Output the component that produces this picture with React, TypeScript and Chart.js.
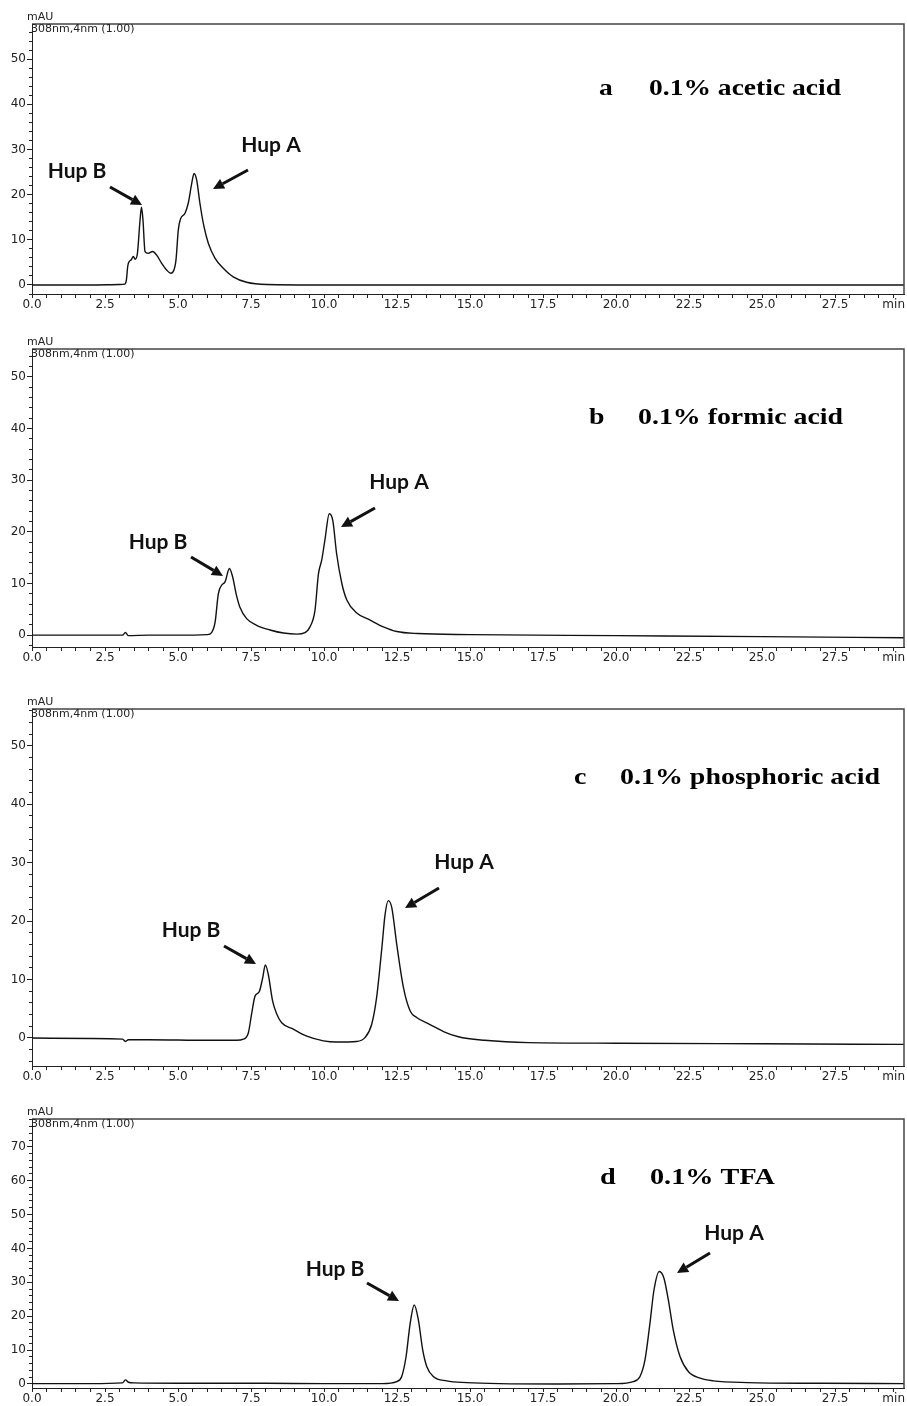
import React, { useEffect, useRef } from 'react';
import { Chart, registerables } from 'chart.js';

Chart.register(...registerables);

// ---------- data (retention time in min, signal in mAU) ----------
const timesA = [0, 1.0, 2.0, 3.0, 3.18, 3.23, 3.28, 3.33, 3.40, 3.47, 3.53, 3.61, 3.70, 3.75, 3.80, 3.87, 3.98, 4.13, 4.27, 4.44, 4.61, 4.75, 4.84, 4.93, 5.01, 5.09, 5.24, 5.35, 5.47, 5.55, 5.64, 5.75, 5.89, 6.04, 6.27, 6.55, 6.89, 7.35, 8.04, 10, 15, 20, 25, 29.86];
const signalA = [0, 0, 0, 0.1, 0.2, 1.0, 4.2, 5.2, 5.6, 6.3, 5.7, 7.0, 14.4, 17.2, 14.4, 7.4, 7.0, 7.4, 6.6, 4.8, 3.3, 2.6, 3.0, 5.5, 12.2, 14.7, 15.9, 18.1, 22.5, 24.7, 23.2, 18.1, 12.9, 9.2, 5.9, 3.7, 1.8, 0.6, 0.1, 0, 0, 0, 0, 0];

const timesB = [0, 3.1, 3.2, 3.3, 4.0, 5.0, 6.0, 6.15, 6.27, 6.38, 6.50, 6.61, 6.76, 6.87, 6.99, 7.12, 7.35, 7.69, 8.15, 8.61, 9.07, 9.35, 9.52, 9.69, 9.81, 9.92, 10.03, 10.18, 10.30, 10.43, 10.61, 10.78, 11.12, 11.58, 12.03, 12.49, 13.2, 15, 20, 25, 29.86];
const signalB = [0, 0, 0.5, -0.1, 0, 0, 0.1, 0.5, 2.5, 8.0, 9.7, 10.3, 12.9, 11.3, 8.0, 5.4, 3.2, 1.9, 1.0, 0.4, 0.2, 0.5, 1.6, 4.8, 11.9, 14.5, 18.4, 23.5, 22.2, 15.8, 10.0, 6.8, 4.3, 2.9, 1.6, 0.7, 0.3, 0.1, -0.1, -0.3, -0.5];

const timesC = [0, 2.0, 3.1, 3.2, 3.3, 4.0, 6.0, 7.0, 7.24, 7.41, 7.52, 7.64, 7.78, 7.90, 7.99, 8.09, 8.24, 8.38, 8.55, 8.95, 9.41, 9.98, 10.43, 11.12, 11.40, 11.63, 11.80, 11.98, 12.09, 12.20, 12.32, 12.49, 12.72, 12.95, 13.17, 13.63, 14.09, 14.6, 15.5, 17, 20, 25, 29.86];
const signalC = [0, -0.1, -0.2, -0.6, -0.3, -0.3, -0.4, -0.4, -0.2, 0.9, 4.1, 7.2, 7.9, 10.3, 12.5, 10.9, 6.3, 4.1, 2.6, 1.5, 0.3, -0.5, -0.7, -0.6, 0.05, 2.3, 6.9, 15.4, 21.1, 23.5, 22.3, 16.0, 8.6, 4.6, 3.5, 2.3, 1.1, 0.2, -0.4, -0.8, -0.9, -1.0, -1.1];

const timesD = [0, 2.0, 3.1, 3.2, 3.3, 3.5, 5, 8, 10, 12.0, 12.49, 12.66, 12.81, 12.95, 13.09, 13.23, 13.38, 13.52, 13.74, 14.20, 14.89, 16, 18, 20.0, 20.59, 20.82, 20.99, 21.16, 21.30, 21.48, 21.64, 21.79, 21.96, 22.19, 22.48, 22.88, 23.33, 24.5, 27, 29.86];
const signalD = [0.1, 0.1, 0.3, 1.2, 0.5, 0.3, 0.2, 0.2, 0.1, 0.1, 0.7, 2.2, 8.1, 17.9, 23.3, 18.9, 10.0, 5.1, 2.2, 0.9, 0.4, 0.1, 0.0, 0.1, 0.7, 2.2, 7.1, 17.9, 27.8, 33.2, 31.2, 24.8, 15.9, 8.1, 3.6, 1.7, 0.9, 0.4, 0.2, 0.1];

const panelTimes = [timesA, timesB, timesC, timesD];
const panelSignals = [signalA, signalB, signalC, signalD];
const panelLetters = ['a', 'b', 'c', 'd'];
const panelTitles = ['0.1% acetic acid', '0.1% formic acid', '0.1% phosphoric acid', '0.1% TFA'];
const peakNames = ['Hup B', 'Hup A'];
const yMins = [-2.0, -2.3, -4.8, -1.2];
const yMaxs = [57.8, 55.4, 56.3, 78.2];
const xMin = 0;
const xMax = 29.86;
const xTickStep = 0.5;
const xLabelStep = 2.5;
const yTickStep = 2;
const yLabelStep = 10;
const yUnit = 'mAU';
const detectorText = '308nm,4nm (1.00)';
const xUnit = 'min';

// ---------- layout (pixels) ----------
type Layout = {
  top: number; plotH: number; bottomH: number;
  letterX: number; titleL: number; titleR: number; titleY: number;
  labels: { x: number; y: number }[];
  arrows: number[][];
};
const LAYOUTS: Layout[] = [
  { top: 0, plotH: 270, bottomH: 20, letterX: 599, titleL: 649, titleR: 841, titleY: 95,
    labels: [{ x: 77, y: 171 }, { x: 271, y: 145 }], arrows: [[110, 187, 142, 205], [248, 170, 213, 189]] },
  { top: 325, plotH: 298, bottomH: 20, letterX: 589, titleL: 638, titleR: 843, titleY: 99,
    labels: [{ x: 158, y: 217 }, { x: 399, y: 157 }], arrows: [[191, 232, 223, 251], [375, 183, 341, 202]] },
  { top: 685, plotH: 357, bottomH: 20, letterX: 574, titleL: 620, titleR: 880, titleY: 99,
    labels: [{ x: 191, y: 245 }, { x: 464, y: 177 }], arrows: [[224, 261, 256, 279], [439, 203, 405, 223]] },
  { top: 1095, plotH: 269, bottomH: 18, letterX: 600, titleL: 650, titleR: 775, titleY: 89,
    labels: [{ x: 335, y: 174 }, { x: 734, y: 138 }], arrows: [[367, 188, 399, 206], [710, 158, 677, 178]] },
];
const PAD_TOP = 24;
const W = 907;
const TICK_FONT = { family: '"DejaVu Sans", sans-serif', size: 12 };
const INK = '#222';

const isMultiple = (v: number, step: number) => Math.abs(v / step - Math.round(v / step)) < 1e-6;

function drawArrow(ctx: CanvasRenderingContext2D, x1: number, y1: number, x2: number, y2: number) {
  const ang = Math.atan2(y2 - y1, x2 - x1);
  const headLen = 11;
  const headW = 5.5;
  const bx = x2 - headLen * Math.cos(ang);
  const by = y2 - headLen * Math.sin(ang);
  ctx.beginPath();
  ctx.lineWidth = 3;
  ctx.lineCap = 'butt';
  ctx.moveTo(x1, y1);
  ctx.lineTo(bx, by);
  ctx.stroke();
  ctx.beginPath();
  ctx.moveTo(x2, y2);
  ctx.lineTo(bx + headW * Math.sin(ang), by - headW * Math.cos(ang));
  ctx.lineTo(bx - headW * Math.sin(ang), by + headW * Math.cos(ang));
  ctx.closePath();
  ctx.fill();
}

function makeOverlay(idx: number) {
  const L = LAYOUTS[idx];
  return {
    id: 'overlay' + idx,
    afterDraw(chart: any) {
      const { ctx, chartArea } = chart;
      const { left, right, top, bottom } = chartArea;
      ctx.save();
      // frame (top + right)
      ctx.strokeStyle = '#444';
      ctx.lineWidth = 1.5;
      ctx.beginPath();
      ctx.moveTo(left, top);
      ctx.lineTo(right, top);
      ctx.lineTo(right, bottom);
      ctx.stroke();
      // unit texts
      ctx.fillStyle = INK;
      ctx.font = `11px ${TICK_FONT.family}`;
      ctx.textAlign = 'left';
      ctx.textBaseline = 'middle';
      ctx.fillText(yUnit, left - 5, top - 7);
      ctx.fillText(detectorText, left - 1, top + 5);
      ctx.font = `${TICK_FONT.size}px ${TICK_FONT.family}`;
      ctx.textAlign = 'right';
      ctx.textBaseline = 'top';
      ctx.fillText(xUnit, right + 1, bottom + 5);
      // title
      ctx.fillStyle = '#000';
      ctx.font = 'bold 23px "Liberation Serif", "Times New Roman", serif';
      ctx.textAlign = 'left';
      ctx.textBaseline = 'alphabetic';
      const title = panelTitles[idx];
      const sx = (L.titleR - L.titleL) / ctx.measureText(title).width;
      ctx.save();
      ctx.translate(L.letterX, L.titleY);
      ctx.scale(sx, 1);
      ctx.fillText(panelLetters[idx], 0, 0);
      ctx.restore();
      ctx.save();
      ctx.translate(L.titleL, L.titleY);
      ctx.scale(sx, 1);
      ctx.fillText(title, 0, 0);
      ctx.restore();
      // peak labels and arrows
      ctx.font = 'bold 21px Lato, "Liberation Sans", sans-serif';
      ctx.textAlign = 'center';
      ctx.textBaseline = 'middle';
      ctx.fillStyle = '#111';
      ctx.strokeStyle = '#111';
      L.labels.forEach((p, i) => ctx.fillText(peakNames[i], p.x, p.y));
      L.arrows.forEach((a) => drawArrow(ctx, a[0], a[1], a[2], a[3]));
      ctx.restore();
    },
  };
}

function Panel({ idx }: { idx: number }) {
  const ref = useRef<HTMLCanvasElement | null>(null);
  const L = LAYOUTS[idx];
  const height = PAD_TOP + L.plotH + L.bottomH;
  useEffect(() => {
    const canvas = ref.current;
    if (!canvas) return;
    const data = panelTimes[idx].map((t, i) => ({ x: t, y: panelSignals[idx][i] }));
    const chart = new Chart(canvas, {
      type: 'line',
      data: {
        datasets: [{
          data,
          borderColor: '#111',
          borderWidth: 1.4,
          pointRadius: 0,
          fill: false,
          cubicInterpolationMode: 'monotone',
        }],
      },
      options: {
        animation: false,
        responsive: false,
        devicePixelRatio: 1,
        layout: { padding: { top: PAD_TOP, right: 3, left: 0, bottom: 0 } },
        plugins: { legend: { display: false }, tooltip: { enabled: false } },
        scales: {
          x: {
            type: 'linear',
            min: xMin,
            max: xMax,
            afterFit: (s: any) => { s.height = L.bottomH; },
            border: { display: true, color: INK, width: 1 },
            grid: {
              drawOnChartArea: false,
              drawTicks: true,
              tickLength: 4,
              color: INK,
              tickBorderDash: (c: any) => (c.tick && isMultiple(c.tick.value, xLabelStep) ? [] : [3, 100]),
            },
            ticks: {
              stepSize: xTickStep,
              includeBounds: false,
              autoSkip: false,
              maxRotation: 0,
              padding: 0,
              color: INK,
              font: TICK_FONT,
              callback: (v: any) => (isMultiple(Number(v), xLabelStep) ? Number(v).toFixed(1) : ''),
            },
          },
          y: {
            type: 'linear',
            min: yMins[idx],
            max: yMaxs[idx],
            afterFit: (s: any) => { s.width = 32; },
            border: { display: true, color: INK, width: 1 },
            grid: {
              drawOnChartArea: false,
              drawTicks: true,
              tickLength: 5,
              color: INK,
              tickBorderDash: (c: any) => (c.tick && isMultiple(c.tick.value, yLabelStep) ? [] : [0, 2, 3, 100]),
            },
            ticks: {
              stepSize: yTickStep,
              includeBounds: false,
              autoSkip: false,
              padding: 1,
              color: INK,
              font: TICK_FONT,
              callback: (v: any) => (isMultiple(Number(v), yLabelStep) ? String(Math.round(Number(v))) : ''),
            },
          },
        },
      },
      plugins: [makeOverlay(idx)],
    } as any);
    return () => chart.destroy();
  }, [idx]);
  return (
    <canvas
      ref={ref}
      width={W}
      height={height}
      style={{ position: 'absolute', left: 0, top: L.top, width: W, height }}
    />
  );
}

export default function App() {
  return (
    <div style={{ position: 'absolute', left: 0, top: 0, width: W, height: 1406, background: '#fff', overflow: 'hidden' }}>
      {LAYOUTS.map((_, i) => (
        <Panel key={i} idx={i} />
      ))}
    </div>
  );
}
